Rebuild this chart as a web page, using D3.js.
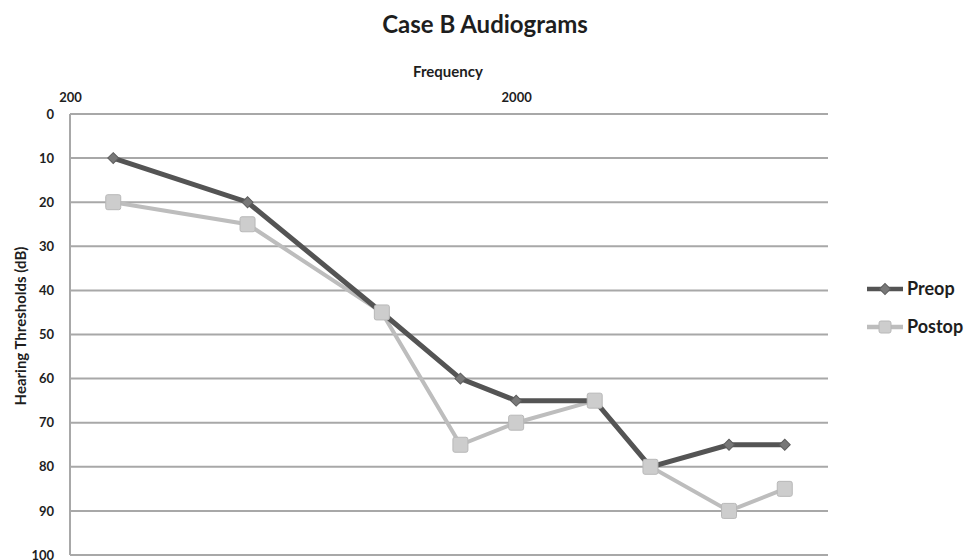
<!DOCTYPE html>
<html>
<head>
<meta charset="utf-8">
<script src="https://cdn.jsdelivr.net/npm/d3@7"></script>
<style>
	body { margin: 0; background: #fff; }
	text { font-family: Lato, "Open Sans", sans-serif; font-weight: bold; fill: #1e1e1e; }
</style>
</head>
<body>
<svg id="chart" width="970" height="560"></svg>
<script>
'use strict';

var FREQS = [250, 500, 1000, 1500, 2000, 3000, 4000, 6000, 8000];
var PREOP = [10, 20, 45, 60, 65, 65, 80, 75, 75];
var POSTOP = [20, 25, 45, 75, 70, 65, 80, 90, 85];
var X_TICKS = [200, 2000];
var Y_TICKS = [0, 10, 20, 30, 40, 50, 60, 70, 80, 90, 100];

var PRE_COLOR = "#545454";
var POST_COLOR = "#bdbdbd";

var svg = d3.select("#chart"),
	margin = {top: 114, right: 142, bottom: 5, left: 70},
	width = +svg.attr("width") - margin.left - margin.right,
	height = +svg.attr("height") - margin.top - margin.bottom,
	g = svg.append("g").attr("transform", "translate(" + margin.left + "," + margin.top + ")");

var x = d3.scaleLog().domain([200, 10000]).range([0, width]);
var y = d3.scaleLinear().domain([0, 100]).range([0, height]);

// gridlines
g.append("g")
	.selectAll("line")
	.data(Y_TICKS)
	.enter().append("line")
		.attr("x1", 0)
		.attr("x2", width)
		.attr("y1", function(d) { return y(d); })
		.attr("y2", function(d) { return y(d); })
		.style("stroke", "#a8a8a8")
		.style("stroke-width", 2);

// left axis line
g.append("line")
	.attr("y1", 0)
	.attr("y2", height)
	.style("stroke", "#a8a8a8")
	.style("stroke-width", 2);

// y labels
g.append("g")
	.call(d3.axisLeft(y).tickValues(Y_TICKS).tickSize(0).tickPadding(16))
	.call(function(s) { s.select(".domain").remove(); })
	.selectAll("text")
		.style("font-size", "13px")
		.style("font-family", "Lato, sans-serif")
		.style("font-weight", "bold")
		.style("fill", "#1e1e1e");

// x labels on top
g.append("g")
	.attr("transform", "translate(0,-12)")
	.call(d3.axisTop(x).tickValues(X_TICKS).tickFormat(d3.format("d")).tickSize(0).tickPadding(0))
	.call(function(s) { s.select(".domain").remove(); })
	.selectAll("text")
		.style("font-size", "13px")
		.style("font-family", "Lato, sans-serif")
		.style("font-weight", "bold")
		.style("fill", "#1e1e1e");

var line = d3.line()
	.x(function(d) { return x(d[0]); })
	.y(function(d) { return y(d[1]); });

var preData = FREQS.map(function(f, i) { return [f, PREOP[i]]; });
var postData = FREQS.map(function(f, i) { return [f, POSTOP[i]]; });

// postop line first (below)
g.append("path")
	.datum(postData)
	.attr("d", line)
	.style("fill", "none")
	.style("stroke", POST_COLOR)
	.style("stroke-width", 4);

g.append("path")
	.datum(preData)
	.attr("d", line)
	.style("fill", "none")
	.style("stroke", PRE_COLOR)
	.style("stroke-width", 5);

// diamond = square rotated 45 degrees
var diamond = d3.symbol().type(d3.symbolSquare).size(60);

g.append("g")
	.selectAll("path")
	.data(preData)
	.enter().append("path")
		.attr("d", diamond)
		.attr("transform", function(d) { return "translate(" + x(d[0]) + "," + y(d[1]) + ") rotate(45)"; })
		.style("fill", "#787878")
		.style("stroke", "#5e5e5e")
		.style("stroke-width", 1);

g.append("g")
	.selectAll("rect")
	.data(postData)
	.enter().append("rect")
		.attr("x", function(d) { return x(d[0]) - 7.5; })
		.attr("y", function(d) { return y(d[1]) - 7.5; })
		.attr("width", 15)
		.attr("height", 15)
		.attr("rx", 2)
		.style("fill", "#cdcdcd")
		.style("stroke", "#b8b8b8")
		.style("stroke-width", 1);

// titles
svg.append("text")
	.attr("x", 485)
	.attr("y", 33)
	.attr("text-anchor", "middle")
	.style("font-size", "24px")
	.text("Case B Audiograms");

svg.append("text")
	.attr("x", 448)
	.attr("y", 77)
	.attr("text-anchor", "middle")
	.style("font-size", "15px")
	.text("Frequency");

svg.append("text")
	.attr("transform", "translate(26,326) rotate(-90)")
	.attr("text-anchor", "middle")
	.style("font-size", "15px")
	.text("Hearing Thresholds (dB)");

// legend
var legend = svg.append("g").attr("transform", "translate(867,289)");
var items = [
	{label: "Preop", color: PRE_COLOR, marker: "diamond"},
	{label: "Postop", color: POST_COLOR, marker: "square"}
];
var li = legend.selectAll("g")
	.data(items)
	.enter().append("g")
		.attr("transform", function(d, i) { return "translate(0," + (i * 38) + ")"; });

li.append("line")
	.attr("x1", 0).attr("x2", 36)
	.style("stroke", function(d) { return d.color; })
	.style("stroke-width", 4.5);

li.filter(function(d) { return d.marker === "diamond"; })
	.append("path")
		.attr("d", diamond)
		.attr("transform", "translate(18,0) rotate(45)")
		.style("fill", "#787878")
		.style("stroke", "#5e5e5e");

li.filter(function(d) { return d.marker === "square"; })
	.append("rect")
		.attr("x", 12).attr("y", -6).attr("width", 12).attr("height", 12).attr("rx", 2)
		.style("fill", "#cdcdcd")
		.style("stroke", "#b8b8b8");

li.append("text")
	.attr("x", 40)
	.attr("dy", "0.36em")
	.style("font-size", "18px")
	.text(function(d) { return d.label; });
</script>
</body>
</html>
